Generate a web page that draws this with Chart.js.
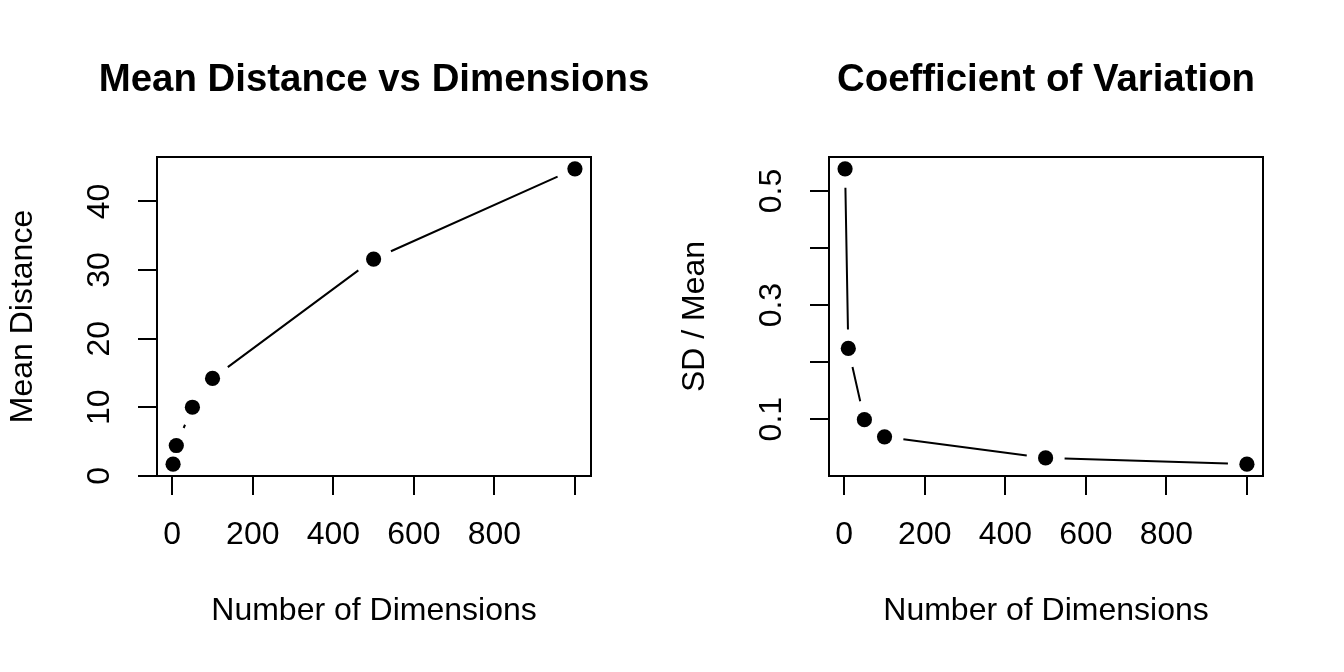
<!DOCTYPE html>
<html>
<head>
<meta charset="utf-8">
<script src="https://cdn.jsdelivr.net/npm/chart.js@4.4.1/dist/chart.umd.min.js"></script>
<style>
  html, body { margin: 0; padding: 0; background: #ffffff; overflow: hidden; }
  #wrap { position: relative; width: 1344px; height: 672px; background: #ffffff; overflow: hidden; }
  canvas { position: absolute; top: 0; }
  #c1 { left: 0; }
  #c2 { left: 672px; }
</style>
</head>
<body>
<div id="wrap">
  <canvas id="c1" width="748" height="672"></canvas>
  <canvas id="c2" width="748" height="672"></canvas>
</div>
<script>
// ---- data ----
const dims = [2, 10, 50, 100, 500, 1000];
const meanDist = [1.70, 4.42, 10.0, 14.2, 31.6, 44.75];
const cvValues = [0.539, 0.224, 0.099, 0.069, 0.032, 0.021];

const xTickLabels = ['0', '200', '400', '600', '800'];
const yTickLabelsLeft = ['0', '10', '20', '30', '40'];
const yTickLabelsRight = ['0.1', '0.3', '0.5'];

const titleLeft = 'Mean Distance vs Dimensions';
const titleRight = 'Coefficient of Variation';
const xTitle = 'Number of Dimensions';
const yTitleLeft = 'Mean Distance';
const yTitleRight = 'SD / Mean';

// ---- helpers ----
Chart.defaults.font.family = "'Liberation Sans', Arial, Helvetica, sans-serif";
Chart.defaults.color = '#000000';

function rRange(arr) {
  const lo = Math.min(...arr), hi = Math.max(...arr), r = hi - lo;
  return [lo - 0.04 * r, hi + 0.04 * r];
}

const gapLines = {
  id: 'gapLines',
  afterDatasetsDraw(chart) {
    const pts = chart.getDatasetMeta(0).data;
    const ctx = chart.ctx;
    const gap = 19;
    ctx.save();
    ctx.strokeStyle = '#000000';
    ctx.lineWidth = 2;
    ctx.beginPath();
    for (let i = 0; i < pts.length - 1; i++) {
      const a = pts[i], b = pts[i + 1];
      const dx = b.x - a.x, dy = b.y - a.y;
      const d = Math.hypot(dx, dy);
      if (d > 2 * gap) {
        const ux = dx / d, uy = dy / d;
        ctx.moveTo(a.x + ux * gap, a.y + uy * gap);
        ctx.lineTo(b.x - ux * gap, b.y - uy * gap);
      }
    }
    ctx.stroke();
    ctx.restore();
  }
};

const boxPlugin = {
  id: 'boxPlugin',
  afterDraw(chart) {
    const a = chart.chartArea, ctx = chart.ctx;
    ctx.save();
    ctx.strokeStyle = '#000000';
    ctx.lineWidth = 2;
    ctx.strokeRect(a.left, a.top, a.right - a.left, a.bottom - a.top);
    ctx.restore();
  }
};

function fmt(v, labels) {
  for (const l of labels) {
    if (Math.abs(parseFloat(l) - v) < 1e-9) return l;
  }
  return '';
}

function makeChart(id, yVals, yStep, yLabels, title, yTitle, yLabelPad) {
  const [xMin, xMax] = rRange(dims);
  const [yMin, yMax] = rRange(yVals);
  return new Chart(document.getElementById(id), {
    type: 'scatter',
    data: {
      datasets: [{
        data: dims.map((d, i) => ({ x: d, y: yVals[i] })),
        showLine: false,
        pointRadius: 7.6,
        pointHoverRadius: 7.6,
        pointBackgroundColor: '#000000',
        pointBorderWidth: 0,
        pointBorderColor: '#000000'
      }]
    },
    options: {
      responsive: false,
      animation: false,
      devicePixelRatio: 1,
      events: [],
      layout: { padding: 0 },
      plugins: {
        legend: { display: false },
        tooltip: { enabled: false },
        title: {
          display: true,
          text: title,
          fullSize: true,
          color: '#000000',
          font: { size: 38.4, weight: 'bold', lineHeight: 1.2 },
          padding: { top: 57, bottom: 53.92 }
        }
      },
      scales: {
        x: {
          type: 'linear',
          position: 'bottom',
          min: xMin,
          max: xMax,
          ticks: {
            stepSize: 200,
            includeBounds: false,
            autoSkip: false,
            maxRotation: 0,
            minRotation: 0,
            padding: 20.8,
            color: '#000000',
            font: { size: 32, lineHeight: 1.2 },
            callback: (v) => fmt(v, xTickLabels)
          },
          grid: { drawOnChartArea: false, drawTicks: true, tickLength: 19, color: '#000000', lineWidth: 2 },
          border: { display: true, color: '#000000', width: 2 },
          title: {
            display: true,
            text: xTitle,
            color: '#000000',
            font: { size: 32, lineHeight: 1.2 },
            padding: { top: 0, bottom: 41.3 }
          },
          afterFit: (s) => { s.height = 196; }
        },
        y: {
          type: 'linear',
          position: 'left',
          min: yMin,
          max: yMax,
          ticks: {
            stepSize: yStep,
            includeBounds: false,
            autoSkip: false,
            minRotation: 90,
            maxRotation: 90,
            crossAlign: 'center',
            padding: yLabelPad,
            color: '#000000',
            font: { size: 32, lineHeight: 1.2 },
            callback: (v) => fmt(v, yLabels)
          },
          grid: { drawOnChartArea: false, drawTicks: true, tickLength: 19, color: '#000000', lineWidth: 2 },
          border: { display: true, color: '#000000', width: 2 },
          title: {
            display: true,
            text: yTitle,
            color: '#000000',
            font: { size: 32, lineHeight: 1.2 },
            padding: { top: 4.3, bottom: 0 }
          },
          afterFit: (s) => { s.width = 157; }
        },
        yRightSpace: {
          type: 'linear',
          position: 'right',
          display: true,
          ticks: { display: false },
          grid: { display: false, drawTicks: false },
          border: { display: false },
          title: { display: false },
          afterFit: (s) => { s.width = 157; }
        }
      }
    },
    plugins: [gapLines, boxPlugin]
  });
}

makeChart('c1', meanDist, 10, yTickLabelsLeft, titleLeft, yTitleLeft, 20.2);
makeChart('c2', cvValues, 0.1, yTickLabelsRight, titleRight, yTitleRight, 15.8);
</script>
</body>
</html>
